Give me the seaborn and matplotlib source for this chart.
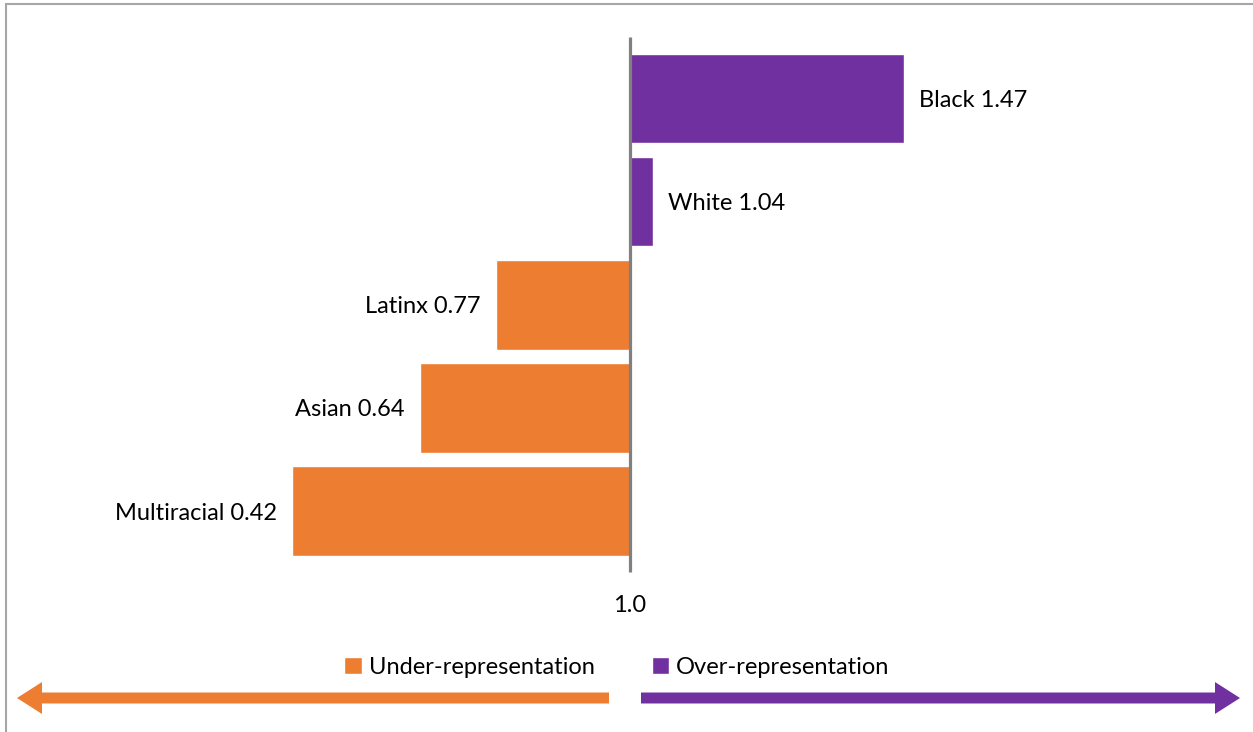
import pandas as pd
import matplotlib.pyplot as plt
import matplotlib.patches as mpatches
import seaborn as sns

# Representation ratios by group (1.0 = parity)
groups = ["Black", "White", "Latinx", "Asian", "Multiracial"]
ratios = [1.47, 1.04, 0.77, 0.64, 0.42]
legend_labels = ["Under-representation", "Over-representation"]
baseline_label = "1.0"

ORANGE = "#ED7D31"
PURPLE = "#7030A0"

sns.set_style("white")
plt.rcParams["font.family"] = ["Lato", "DejaVu Sans"]
plt.rcParams["text.color"] = "black"
FS = 17


def build_frame():
    df = pd.DataFrame({"group": groups, "ratio": ratios})
    df["deviation"] = df["ratio"] - 1.0
    df["direction"] = df["ratio"].apply(
        lambda r: legend_labels[1] if r > 1 else legend_labels[0]
    )
    return df


def main():
    df = build_frame()

    fig = plt.figure(figsize=(12.53, 7.32), dpi=100)
    ax = fig.add_axes([0, 0, 1, 1])

    sns.barplot(
        data=df,
        x="deviation",
        y="group",
        hue="direction",
        hue_order=legend_labels,
        palette=[ORANGE, PURPLE],
        saturation=1,
        dodge=False,
        width=0.87,
        orient="h",
        ax=ax,
    )

    ax.set_xlim(-1.0806, 1.0686)
    ax.set_ylim(6.143, -0.955)
    ax.axis("off")

    # baseline at ratio 1.0
    ax.vlines(0, -0.596, 4.591, color="#808080", lw=2.3, zorder=5)
    ax.text(0, 4.921, baseline_label, ha="center", va="center", fontsize=FS)

    # data labels
    for i, row in df.iterrows():
        txt = f"{row['group']} {row['ratio']:.2f}"
        if row["deviation"] >= 0:
            ax.text(row["deviation"] + 0.026, i + 0.02, txt, ha="left", va="center", fontsize=FS)
        else:
            ax.text(row["deviation"] - 0.026, i + 0.02, txt, ha="right", va="center", fontsize=FS)

    sns.move_legend(
        ax,
        "center",
        bbox_to_anchor=(617 / 1253, 1 - 667 / 732),
        ncol=2,
        frameon=False,
        title=None,
        fontsize=FS,
        handlelength=0.75,
        handleheight=0.75,
        handletextpad=0.3,
        columnspacing=2.4,
    )

    # direction arrows
    arrow_style = "simple,head_length=18,head_width=23,tail_width=7.9"
    for start, end, color in [(609, 17, ORANGE), (641, 1240, PURPLE)]:
        ax.annotate(
            "",
            xy=(end, 732 - 698),
            xytext=(start, 732 - 698),
            xycoords="figure pixels",
            textcoords="figure pixels",
            arrowprops=dict(
                arrowstyle=arrow_style,
                mutation_scale=1,
                color=color,
                lw=0,
                shrinkA=0,
                shrinkB=0,
            ),
        )

    # outer frame of the original chart area
    frame = mpatches.Rectangle(
        (6 / 1253, -0.1),
        1.2,
        1.1 - 4 / 732,
        transform=fig.transFigure,
        fill=False,
        edgecolor="#A6A6A6",
        lw=1.5,
    )
    fig.patches.append(frame)

    fig.savefig("out.png", dpi=100)


if __name__ == "__main__":
    main()
